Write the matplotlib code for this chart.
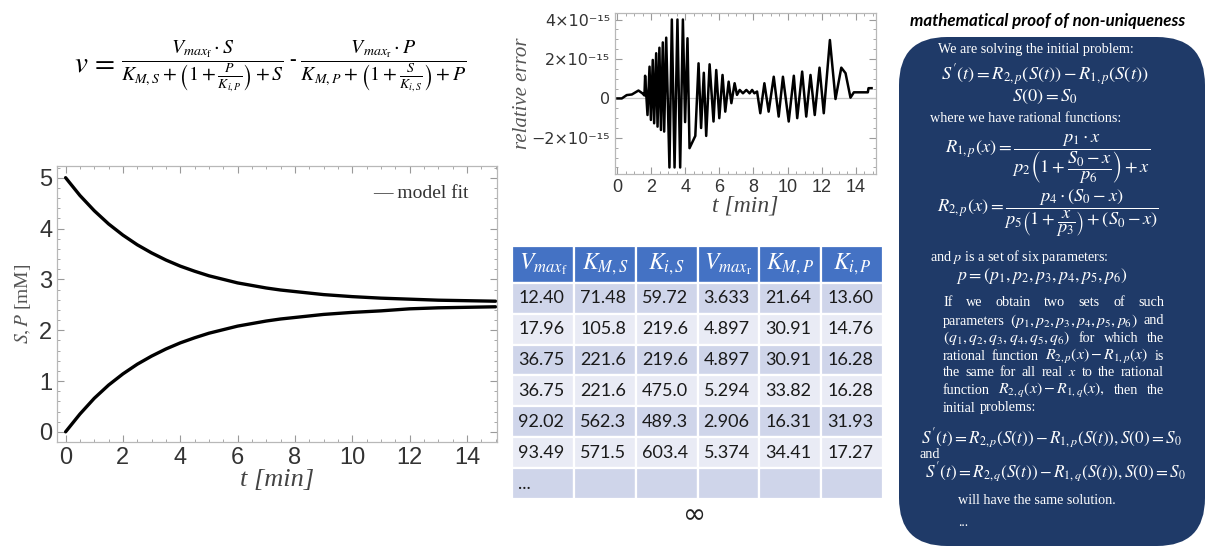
import matplotlib
matplotlib.use("Agg")
import matplotlib.pyplot as plt
from matplotlib.patches import FancyBboxPatch
from matplotlib.ticker import MultipleLocator

plt.rcParams["font.family"] = ["Liberation Sans", "DejaVu Sans"]
plt.rcParams["mathtext.fontset"] = "stix"

# model fit curves (left panel)
t_fit = [0, 0.5, 1, 1.5, 2, 2.5, 3, 3.5, 4, 4.5, 5, 5.5, 6, 6.5, 7, 7.5, 8,
         9, 10, 11, 12, 13, 14, 15]
S_fit = [5.00, 4.65, 4.35, 4.09, 3.87, 3.68, 3.52, 3.38, 3.26, 3.16, 3.07, 3.00,
         2.93, 2.88, 2.83, 2.79, 2.76, 2.70, 2.66, 2.63, 2.61, 2.59, 2.58, 2.57]
P_fit = [0.00, 0.35, 0.66, 0.92, 1.14, 1.33, 1.49, 1.63, 1.75, 1.85, 1.94, 2.01,
         2.08, 2.13, 2.18, 2.22, 2.25, 2.31, 2.35, 2.38, 2.42, 2.44, 2.45, 2.46]

# relative error trace, in units of 1e-15
t_err = [0.00, 0.26, 0.55, 0.85, 1.24, 1.47, 1.59, 1.63, 1.77, 1.89, 1.97, 2.08,
         2.16, 2.28, 2.36, 2.47, 2.56, 2.67, 2.75, 2.87, 3.06, 3.20, 3.36, 3.53,
         3.69, 3.85, 3.98, 4.12, 4.24, 4.58, 4.77, 4.92, 5.08, 5.22, 5.42, 5.65,
         5.81, 5.99, 6.18, 6.34, 6.54, 6.70, 6.89, 7.03, 7.19, 7.38, 7.58, 7.77,
         7.92, 8.05, 8.21, 8.40, 8.64, 8.89, 9.19, 9.48, 9.73, 10.07, 10.37, 10.57,
         10.86, 11.10, 11.35, 11.60, 11.88, 12.13, 12.49, 12.82, 13.16, 13.41,
         13.70, 13.90, 14.72, 14.76, 14.94]
err = [0.00, 0.00, 0.17, 0.20, 0.40, 0.26, 0.15, 1.15, -0.84, 1.61, -1.09, 1.95,
       -1.26, 2.29, -1.43, 2.57, -1.60, 2.84, -1.68, 3.08, -3.50, 4.00, -3.50, 4.00,
       -3.50, 4.00, -1.20, 3.05, -2.52, -1.90, 1.78, -1.50, 1.30, -1.90, 1.73, -1.17,
       1.44, -1.00, 1.19, -0.67, 0.85, -0.24, 0.77, 0.18, 0.43, 0.26, 0.43, 0.26,
       0.43, 0.26, 0.35, -0.75, 0.77, -0.67, 1.10, -0.92, 1.10, -1.17, 1.15, -1.00,
       1.36, -0.92, 1.19, -0.84, 1.56, -0.75, 2.96, -0.03, 1.56, 1.28,
       0.04, 0.31, 0.31, 0.52, 0.52]
err_ticks = [-2, 0, 2, 4]
err_ticklabels = ["\u22122\u00d710\u207b\u00b9\u2075", "0",
                  "2\u00d710\u207b\u00b9\u2075", "4\u00d710\u207b\u00b9\u2075"]

# parameter table
col_labels = [r"$V_{max_{\mathrm{f}}}$", r"$K_{M,S}$", r"$K_{i,S}$",
              r"$V_{max_{\mathrm{r}}}$", r"$K_{M,P}$", r"$K_{i,P}$"]
table_rows = [
    ["12.40", "71.48", "59.72", "3.633", "21.64", "13.60"],
    ["17.96", "105.8", "219.6", "4.897", "30.91", "14.76"],
    ["36.75", "221.6", "219.6", "4.897", "30.91", "16.28"],
    ["36.75", "221.6", "475.0", "5.294", "33.82", "16.28"],
    ["92.02", "562.3", "489.3", "2.906", "16.31", "31.93"],
    ["93.49", "571.5", "603.4", "5.374", "34.41", "17.27"],
    ["...", "", "", "", "", ""],
]

W, H = 1208, 550
fig = plt.figure(figsize=(W / 100, H / 100), dpi=100)


def box(l, t, r, b):
    return [l / W, 1 - b / H, (r - l) / W, (b - t) / H]


def frame_style(ax, size):
    ax.tick_params(which="both", direction="in", top=True, right=True,
                   color="#9a9a9a", labelsize=size, labelcolor="#333333")
    ax.tick_params(which="major", length=5, width=0.8)
    ax.tick_params(which="minor", length=2.5, width=0.6)
    for sp in ax.spines.values():
        sp.set_color("#b8b8b8")
        sp.set_linewidth(0.9)


# overlay in pixel coordinates for text, table and the proof panel
ov = fig.add_axes([0, 0, 1, 1])
ov.set_xlim(0, W)
ov.set_ylim(H, 0)
ov.axis("off")

# ---- left: model fit ----
ax = fig.add_axes(box(57, 166, 497, 442))
ax.plot(t_fit, S_fit, color="black", lw=2.4, solid_capstyle="round")
ax.plot(t_fit, P_fit, color="black", lw=2.4, solid_capstyle="round")
ax.set_xlim(-0.3, 15.05)
ax.set_ylim(-0.2, 5.23)
ax.set_xticks(range(0, 15, 2))
ax.set_yticks(range(0, 6))
ax.xaxis.set_minor_locator(MultipleLocator(0.5))
ax.yaxis.set_minor_locator(MultipleLocator(0.2))
frame_style(ax, 17)
ax.set_xlabel("t [min]", family="Liberation Serif", style="italic",
              fontsize=19, color="#444444", labelpad=0)
ax.set_ylabel(r"$S,P$ [mM]", family="Liberation Serif", fontsize=14,
              color="#555555", labelpad=4)
ax.text(0.935, 0.9, "\u2014 model fit", transform=ax.transAxes, ha="right",
        va="center", family="Liberation Serif", fontsize=14, color="#333333")

# ---- top middle: relative error ----
ax2 = fig.add_axes(box(615, 13, 876, 174))
ax2.axhline(0, color="#c8c8c8", lw=0.9)
ax2.plot(t_err, err, color="black", lw=1.8)
ax2.set_xlim(-0.14, 15.2)
ax2.set_ylim(-3.83, 4.33)
ax2.set_xticks(range(0, 15, 2))
ax2.set_yticks(err_ticks, err_ticklabels, family="DejaVu Sans")
ax2.xaxis.set_minor_locator(MultipleLocator(0.5))
ax2.yaxis.set_minor_locator(MultipleLocator(0.5))
frame_style(ax2, 13)
ax2.tick_params(axis="y", labelsize=11.5)
ax2.set_xlabel("t [min]", family="Liberation Serif", style="italic",
               fontsize=17, color="#444444", labelpad=0)
ax2.set_ylabel("relative error", family="Liberation Serif", style="italic",
               fontsize=15, color="#555555", labelpad=0)

# ---- rate equation ----
ov.text(95, 64, r"$v\,=$", ha="center", va="center", fontsize=21)
eq = (r"$\dfrac{V_{max_{\mathrm{f}}}\cdot S}"
      r"{K_{M,S}+\left(1+\frac{P}{K_{i,P}}\right)+S}$ - "
      r"$\dfrac{V_{max_{\mathrm{r}}}\cdot P}"
      r"{K_{M,P}+\left(1+\frac{S}{K_{i,S}}\right)+P}$")
ov.text(121, 66, eq, ha="left", va="center", fontsize=14.3,
        family="Liberation Serif")

# ---- table ----
tb = box(512, 246, 883, 499)
tbl = ov.table(cellText=table_rows, colLabels=col_labels, cellLoc="left",
               bbox=[tb[0], tb[1], tb[2], tb[3]])
tbl.auto_set_font_size(False)
for (r, c), cell in tbl.get_celld().items():
    cell.set_edgecolor("white")
    cell.set_linewidth(1.6)
    txt = cell.get_text()
    if r == 0:
        cell.set_facecolor("#4472C4")
        cell.set_height(37)
        txt.set_color("white")
        txt.set_fontsize(17)
    else:
        cell.set_facecolor("#CFD5EA" if r % 2 == 1 else "#E9EBF5")
        cell.set_height(31)
        txt.set_color("#1a1a1a")
        txt.set_fontsize(13)
        txt.set_family("Lato")
ov.text(695, 515, "\u221e", ha="center", va="center", fontsize=20,
        family="DejaVu Sans", color="#222222")

# ---- proof panel ----
ov.text(1048, 21, "mathematical proof of non-uniqueness", ha="center",
        va="center", family="Lato", weight="bold", style="italic",
        fontsize=12.2, color="black")
ov.add_patch(FancyBboxPatch((899, 37), 306, 509,
                            boxstyle="round,pad=0,rounding_size=48",
                            facecolor="#1f3a68", edgecolor="none"))


def ptxt(x, y, s, size=10.2, ha="left"):
    return ov.text(x, y, s, color="white", family="Liberation Serif",
                   fontsize=size, ha=ha, va="center")


ptxt(938, 49, "We are solving the initial problem:")
ptxt(1045, 75, r"$S^{\prime}(t) = R_{2,p}\left(S(t)\right) - R_{1,p}\left(S(t)\right)$",
     13.2, "center")
ptxt(1045, 97, r"$S(0) = S_0$", 13.2, "center")
ptxt(930, 118, "where we have rational functions:")
ptxt(1048, 159, r"$R_{1,p}(x) = \dfrac{p_1\cdot x}"
     r"{p_2\left(1+\dfrac{S_0-x}{p_6}\right)+x}$", 13.2, "center")
ptxt(1048, 213, r"$R_{2,p}(x) = \dfrac{p_4\cdot (S_0-x)}"
     r"{p_5\left(1+\dfrac{x}{p_3}\right)+(S_0-x)}$", 13.2, "center")
ptxt(930, 257, r"and $p$ is a set of six parameters:")
ptxt(1042, 276, r"$p = (p_1, p_2, p_3, p_4, p_5, p_6)$", 12.8, "center")

para = [
    "If we obtain two sets of such".split(),
    ["parameters", r"$(p_1, p_2, p_3, p_4, p_5, p_6)$", "and"],
    [r"$(q_1, q_2, q_3, q_4, q_5, q_6)$", "for", "which", "the"],
    ["rational", "function", r"$R_{2,p}(x) - R_{1,p}(x)$", "is"],
    ["the", "same", "for", "all", "real", r"$x$", "to", "the", "rational"],
    ["function", r"$R_{2,q}(x) - R_{1,q}(x),$", "then", "the"],
    ["initial", "problems:"],
]
para_y = [303, 321, 338, 356, 373, 390, 408]
renderer = fig.canvas.get_renderer()
x0, x1 = 943, 1164
for i, (words, y) in enumerate(zip(para, para_y)):
    objs = [ptxt(0, y, w, 11.3 if w.startswith("$") and len(w) > 3 else 10.2)
            for w in words]
    widths = [o.get_window_extent(renderer).width for o in objs]
    if i < len(para) - 1:
        gap = (x1 - x0 - sum(widths)) / (len(words) - 1)
    else:
        gap = 4
    x = x0
    for o, w in zip(objs, widths):
        o.set_x(x)
        x += w + gap

ptxt(1051, 438, r"$S^{\prime}(t) = R_{2,p}\left(S(t)\right) - R_{1,p}\left(S(t)\right), S(0) = S_0$",
     12.3, "center")
ptxt(919, 455, "and")
ptxt(1055, 472, r"$S^{\prime}(t) = R_{2,q}\left(S(t)\right) - R_{1,q}\left(S(t)\right), S(0) = S_0$",
     12.3, "center")
ptxt(958, 500, "will have the same solution.")
ptxt(958, 522, "...", 10.2)

fig.savefig("out.png", dpi=100, facecolor="white")
